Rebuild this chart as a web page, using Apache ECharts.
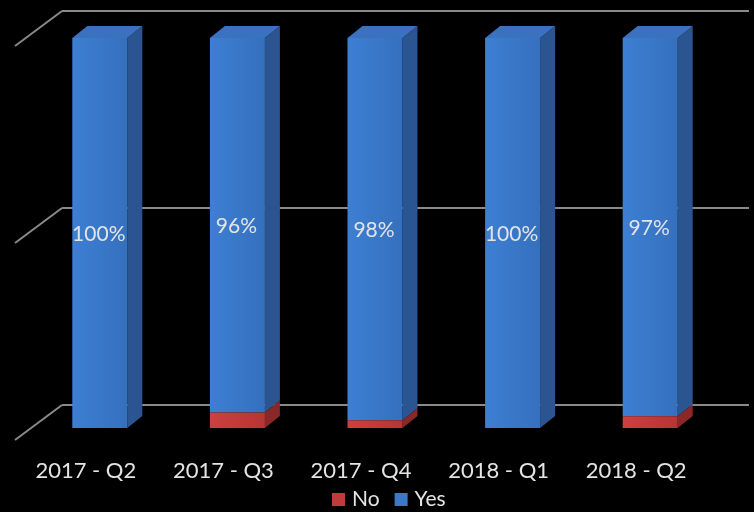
<!DOCTYPE html>
<html>
<head>
<meta charset="utf-8">
<script src="https://cdn.jsdelivr.net/npm/echarts@6/dist/echarts.min.js"></script>
<style>
  html, body { margin: 0; padding: 0; background: #000; }
  #chart { width: 754px; height: 512px; }
</style>
</head>
<body>
<div id="chart"></div>
<script>
// Quarterly survey answers, in percent
const categories = ['2017 - Q2', '2017 - Q3', '2017 - Q4', '2018 - Q1', '2018 - Q2'];
const yesValues = [100, 96, 98, 100, 97];
const noValues = [0, 4, 2, 0, 3];
const wallTicks = [0, 50, 100];

const FONT = 'Lato, "Open Sans", sans-serif';
const TEXT = '#e4e4e4';
const DEPTH_X = 15, DEPTH_Y = -12, BAR_W = 55;

const palette = {
  No: { front: ['#cc4040', '#b83434'], side: '#8a2828', top: '#b63a3a', legend: '#c23b3b' },
  Yes: { front: ['#3d7fd3', '#3570bd'], side: '#2a5590', top: '#3a72c0', legend: '#3a78c8' }
};

// Draws one segment of a stacked 3D column (front face, side, optional top)
function columnRenderer(name) {
  const c = palette[name];
  return function (params, api) {
    const i = api.value(0), lo = api.value(1), hi = api.value(2);
    if (hi - lo <= 0) return null;
    const pb = api.coord([i, lo]);
    const pt = api.coord([i, hi]);
    const x0 = pb[0] - BAR_W / 2, x1 = pb[0] + BAR_W / 2;
    const yb = pb[1], yt = pt[1];
    const children = [
      {
        type: 'polygon',
        shape: { points: [[x1, yb], [x1 + DEPTH_X, yb + DEPTH_Y], [x1 + DEPTH_X, yt + DEPTH_Y], [x1, yt]] },
        style: { fill: c.side }
      },
      {
        type: 'rect',
        shape: { x: x0, y: yt, width: BAR_W, height: yb - yt },
        style: {
          fill: new echarts.graphic.LinearGradient(0, 0, 1, 0, [
            { offset: 0, color: c.front[0] },
            { offset: 1, color: c.front[1] }
          ])
        }
      }
    ];
    const isTop = name === 'Yes' || yesValues[i] === 0;
    if (isTop) {
      children.push({
        type: 'polygon',
        shape: { points: [[x0, yt], [x0 + DEPTH_X, yt + DEPTH_Y], [x1 + DEPTH_X, yt + DEPTH_Y], [x1, yt]] },
        style: { fill: c.top }
      });
    }
    if (name === 'Yes') {
      children.push({
        type: 'text',
        style: {
          text: yesValues[i] + '%',
          x: pb[0] - 1,
          y: (yb + yt) / 2 + 1,
          align: 'center',
          verticalAlign: 'middle',
          fill: TEXT,
          font: '21px ' + FONT
        }
      });
    }
    return { type: 'group', children: children };
  };
}

const noData = categories.map((c, i) => [i, 0, noValues[i]]);
const yesData = categories.map((c, i) => [i, noValues[i], noValues[i] + yesValues[i]]);

const chart = echarts.init(document.getElementById('chart'), null, { renderer: 'canvas' });
chart.setOption({
  backgroundColor: '#000',
  animation: false,
  grid: [
    { left: 31, right: 35, top: 38, bottom: 84 },
    { left: 62, right: 5, top: 11, bottom: 107 }
  ],
  xAxis: [
    {
      type: 'category',
      data: categories,
      gridIndex: 0,
      axisLine: { show: false },
      axisTick: { show: false },
      axisLabel: {
        color: TEXT,
        fontFamily: FONT,
        fontSize: 22,
        margin: 32,
        padding: [0, 28, 0, 0]
      }
    },
    { type: 'value', gridIndex: 1, min: 0, max: 1, show: false }
  ],
  yAxis: [
    { type: 'value', gridIndex: 0, min: 0, max: 100, show: false },
    {
      type: 'value',
      gridIndex: 1,
      min: 0,
      max: 100,
      interval: 50,
      axisLine: { show: false },
      axisTick: { show: false },
      axisLabel: { show: false },
      splitLine: { lineStyle: { color: '#8a8a8a', width: 2 } }
    }
  ],
  legend: {
    data: ['No', 'Yes'],
    left: 327,
    top: 484,
    padding: 5,
    icon: 'rect',
    itemWidth: 13,
    itemHeight: 13,
    itemGap: 15,
    textStyle: { color: TEXT, fontFamily: FONT, fontSize: 21, padding: [0, 0, 0, 2] }
  },
  series: [
    {
      name: 'wall',
      type: 'custom',
      xAxisIndex: 1,
      yAxisIndex: 1,
      silent: true,
      z: 1,
      data: wallTicks.map(v => [0, v]),
      renderItem: function (params, api) {
        const p = api.coord([0, api.value(1)]);
        return {
          type: 'line',
          shape: { x1: p[0], y1: p[1], x2: p[0] - 47, y2: p[1] + 35 },
          style: { stroke: '#8a8a8a', lineWidth: 2 }
        };
      }
    },
    {
      name: 'No',
      type: 'custom',
      z: 3,
      itemStyle: { color: palette.No.legend },
      encode: { x: 0, y: [1, 2] },
      data: noData,
      renderItem: columnRenderer('No')
    },
    {
      name: 'Yes',
      type: 'custom',
      z: 2,
      itemStyle: { color: palette.Yes.legend },
      encode: { x: 0, y: [1, 2] },
      data: yesData,
      renderItem: columnRenderer('Yes')
    }
  ]
});
</script>
</body>
</html>
